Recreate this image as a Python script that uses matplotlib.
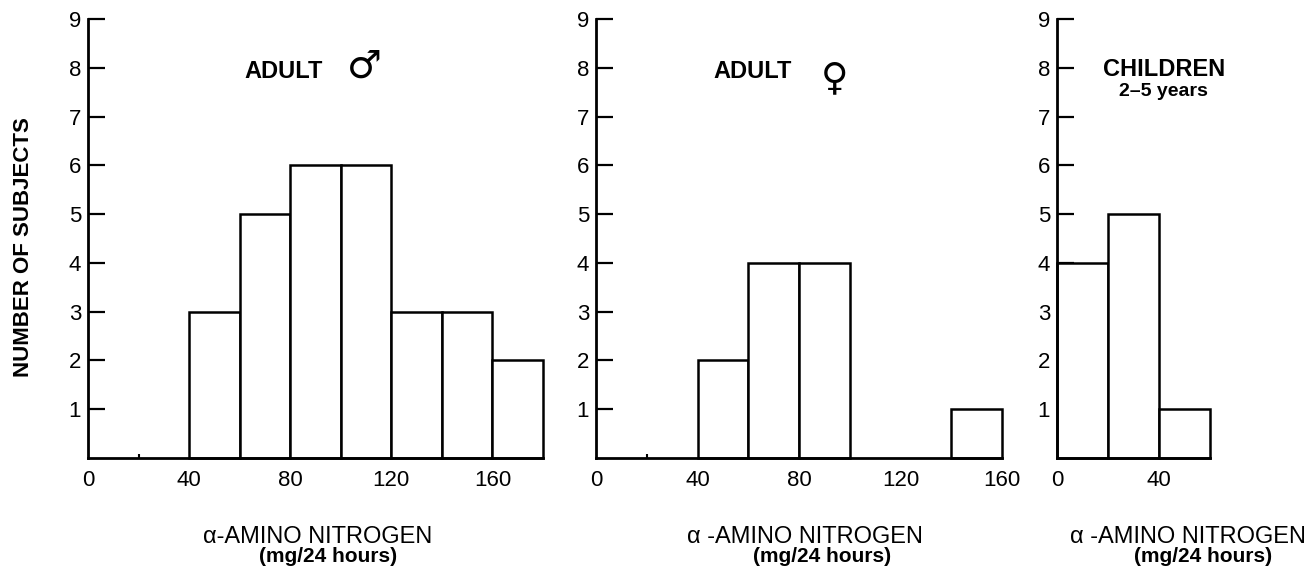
import numpy as np
import matplotlib
matplotlib.use("Agg")
import matplotlib.pyplot as plt

plt.rcParams["font.family"] = ["Liberation Sans", "DejaVu Sans"]

# histogram data: left bin edges (mg/24 hours) and counts
bin_width = 20
male_edges = [40, 60, 80, 100, 120, 140, 160]
male_counts = [3, 5, 6, 6, 3, 3, 2]
female_edges = [40, 60, 80, 140]
female_counts = [2, 4, 4, 1]
child_edges = [0, 20, 40]
child_counts = [4, 5, 1]

yticks = [1, 2, 3, 4, 5, 6, 7, 8, 9]
male_xticks = [0, 40, 80, 120, 160]
female_xticks = [0, 40, 80, 120, 160]
child_xticks = [0, 40]

W, H = 1313, 572
fig = plt.figure(figsize=(W / 100, H / 100), dpi=100)


def px(x, y):
    return x / W, 1 - y / H


bottom = 1 - 458 / H
top = 1 - 19 / H
panels = [
    # left px, right px, xmax, edges, counts, xticks, minor ticks
    (88, 543, 180, male_edges, male_counts, male_xticks, [20]),
    (596, 1002, 160, female_edges, female_counts, female_xticks, [20, 120]),
    (1057, 1210, 60, child_edges, child_counts, child_xticks, []),
]

axes = []
for left, right, xmax, edges, counts, xt, minor in panels:
    ax = fig.add_axes([left / W, bottom, (right - left) / W, top - bottom])
    bars = ax.bar(edges, counts, width=bin_width, align="edge", color="white",
                  edgecolor="black", linewidth=1.8, zorder=2)
    for b in bars:
        b.set_clip_on(False)
    ax.set_xlim(0, xmax)
    ax.set_ylim(0, 9)
    for s in ["top", "right"]:
        ax.spines[s].set_visible(False)
    for s in ["left", "bottom"]:
        ax.spines[s].set_linewidth(2)
        ax.spines[s].set_zorder(3)
    ax.set_yticks(yticks)
    ax.tick_params(axis="y", direction="in", length=12, width=1.6,
                   labelsize=16, pad=5)
    ax.set_xticks(xt)
    ax.set_xticks(minor, minor=True)
    ax.tick_params(axis="x", which="major", length=0, labelsize=16, pad=9)
    ax.tick_params(axis="x", which="minor", direction="in", length=3, width=1.5)
    axes.append(ax)

# panel titles
fig.text(*px(284, 71), "ADULT", fontsize=17, fontweight="bold",
         ha="center", va="center")
fig.text(*px(364, 67), "\u2642", fontsize=28, ha="center", va="center",
         family=["DejaVu Sans"])
fig.text(*px(753, 71), "ADULT", fontsize=17, fontweight="bold",
         ha="center", va="center")
fig.text(*px(835, 79), "\u2640", fontsize=27, ha="center", va="center",
         family=["DejaVu Sans"])
fig.text(*px(1164, 70), "CHILDREN", fontsize=17, fontweight="bold",
         ha="center", va="center")
fig.text(*px(1163, 91), "2\u20135 years", fontsize=14, fontweight="bold",
         ha="center", va="center")

# axis labels
fig.text(*px(24, 247), "NUMBER OF SUBJECTS", fontsize=16, fontweight="bold",
         rotation=90, ha="center", va="center")
for cx1, cx2, lab in [(318, 328, "\u03b1-AMINO NITROGEN"),
                      (805, 822, "\u03b1 -AMINO NITROGEN"),
                      (1188, 1203, "\u03b1 -AMINO NITROGEN")]:
    fig.text(*px(cx1, 537), lab, fontsize=17, ha="center", va="center")
    fig.text(*px(cx2, 557), "(mg/24 hours)", fontsize=15, fontweight="bold",
             ha="center", va="center")

fig.savefig("out.png", dpi=100)
